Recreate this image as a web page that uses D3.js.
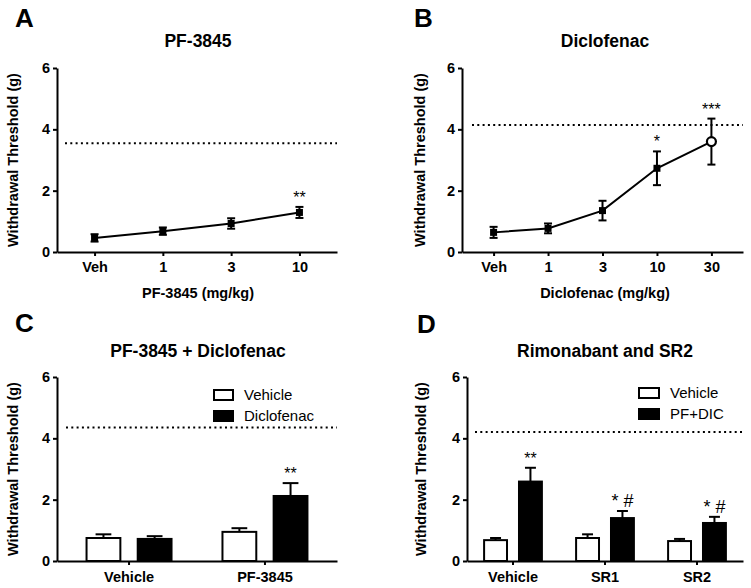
<!DOCTYPE html>
<html><head><meta charset="utf-8">
<script src="https://cdn.jsdelivr.net/npm/d3@7"></script>
<style>
body{margin:0;background:#fff;}
svg{font-family:"Liberation Sans",Arial,sans-serif;}
</style></head><body>
<svg id="c" width="751" height="588"></svg>
<script>
// ---- data ----
const yTicks = [0, 2, 4, 6];
const doseA = ["Veh", "1", "3", "10"];
const meanA = [0.46, 0.68, 0.93, 1.29];
const semA = [0.12, 0.12, 0.17, 0.18];
const sigA = ["", "", "", "**"];
const baseA = 3.55;

const doseB = ["Veh", "1", "3", "10", "30"];
const meanB = [0.64, 0.77, 1.35, 2.73, 3.6];
const semB = [0.18, 0.16, 0.32, 0.55, 0.75];
const sigB = ["", "", "", "*", "***"];
const baseB = 4.14;

const groupsC = ["Vehicle", "PF-3845"];
const seriesC = ["Vehicle", "Diclofenac"];
const vehMeanC = [0.75, 0.95];
const vehSemC = [0.12, 0.12];
const dicMeanC = [0.72, 2.12];
const dicSemC = [0.09, 0.42];
const sigC = ["", "**"];
const baseC = 4.35;

const groupsD = ["Vehicle", "SR1", "SR2"];
const seriesD = ["Vehicle", "PF+DIC"];
const vehMeanD = [0.68, 0.75, 0.65];
const vehSemD = [0.07, 0.12, 0.07];
const pfMeanD = [2.59, 1.4, 1.24];
const pfSemD = [0.45, 0.23, 0.2];
const sigD = ["**", "* #", "* #"];
const baseD = 4.21;

const svg = d3.select("#c");

function yAxis(g, y) {
  g.call(d3.axisLeft(y).tickValues(yTicks).tickFormat(d3.format("d")).tickSize(4).tickSizeOuter(0).tickPadding(3));
  g.selectAll("path,line").attr("stroke", "#000").attr("stroke-width", 2);
  g.selectAll("text").attr("font-size", 14.5).attr("font-weight", "bold").attr("fill", "#000");
  g.attr("font-family", null);
}
function xAxis(g, x, pad) {
  g.call(d3.axisBottom(x).tickSize(4).tickSizeOuter(0).tickPadding(pad));
  g.selectAll("path,line").attr("stroke", "#000").attr("stroke-width", 2);
  g.selectAll("text").attr("font-size", 14.5).attr("font-weight", "bold").attr("fill", "#000");
  g.attr("font-family", null);
}
function label(x, y, t, size, weight, anchor) {
  return svg.append("text").attr("x", x).attr("y", y).attr("font-size", size)
    .attr("font-weight", weight || "normal").attr("text-anchor", anchor || "middle").text(t);
}
function ylabel(x, yc, t) {
  svg.append("text").attr("transform", `translate(${x},${yc}) rotate(-90)`)
    .attr("font-size", 14.5).attr("font-weight", "bold").attr("text-anchor", "middle").text(t);
}
function dotted(x0, x1, yv) {
  svg.append("line").attr("x1", x0).attr("x2", x1).attr("y1", yv).attr("y2", yv)
    .attr("stroke", "#000").attr("stroke-width", 2).attr("stroke-dasharray", "2,3.3");
}

// ---- line panels ----
function linePanel(o) {
  const y = d3.scaleLinear().domain([0, 6]).range([o.y1, o.y0]);
  const x = d3.scalePoint().domain(o.doses).range([o.x0, o.x1]).padding(o.pad);
  dotted(o.dx0, o.x1, y(o.base));
  const line = d3.line().x((d, i) => x(o.doses[i])).y(d => y(d));
  svg.append("path").datum(o.mean).attr("d", line).attr("fill", "none").attr("stroke", "#000").attr("stroke-width", 2);
  const g = svg.append("g");
  o.mean.forEach((m, i) => {
    const cx = x(o.doses[i]);
    const top = y(m + o.sem[i]), bot = y(m - o.sem[i]);
    g.append("line").attr("x1", cx).attr("x2", cx).attr("y1", top).attr("y2", bot).attr("stroke", "#000").attr("stroke-width", 2);
    [top, bot].forEach(v => g.append("line").attr("x1", cx - 4).attr("x2", cx + 4).attr("y1", v).attr("y2", v).attr("stroke", "#000").attr("stroke-width", 2));
    if (o.open && i === o.mean.length - 1) {
      g.append("circle").attr("cx", cx).attr("cy", y(m)).attr("r", 4.5).attr("fill", "#fff").attr("stroke", "#000").attr("stroke-width", 2.2);
    } else {
      g.append("rect").attr("x", cx - 3.5).attr("y", y(m) - 3.5).attr("width", 7).attr("height", 7).attr("fill", "#000");
    }
    if (o.sig[i]) label(cx, top - 4, o.sig[i], 16);
  });
  yAxis(svg.append("g").attr("transform", `translate(${o.x0},0)`), y);
  xAxis(svg.append("g").attr("transform", `translate(0,${o.y1})`), x, 6);
}

linePanel({x0: 57, x1: 337, y0: 68, y1: 252, doses: doseA, mean: meanA, sem: semA, sig: sigA, base: baseA, pad: 0.55, dx0: 65});
linePanel({x0: 462, x1: 743, y0: 68, y1: 252, doses: doseB, mean: meanB, sem: semB, sig: sigB, base: baseB, pad: 0.58, dx0: 472, open: true});

// ---- bar panels ----
function barPanel(o) {
  const y = d3.scaleLinear().domain([0, 6]).range([o.y1, o.y0]);
  const x = d3.scaleBand().domain(o.groups).range([o.x0, o.x1]).paddingInner(o.pi).paddingOuter(o.po);
  const xs = d3.scaleBand().domain(o.series).range([0, x.bandwidth()]).paddingInner(o.si);
  dotted(o.dx0, o.x1, y(o.base));
  const fills = ["#fff", "#000"];
  const sets = [[o.m0, o.s0, []], [o.m1, o.s1, o.sig]];
  sets.forEach(([means, sems, sig], k) => {
    means.forEach((m, i) => {
      const bx = x(o.groups[i]) + xs(o.series[k]);
      const w = xs.bandwidth();
      const cx = bx + w / 2;
      const top = y(m + sems[i]);
      const cw = w * 0.22;
      svg.append("line").attr("x1", cx).attr("x2", cx).attr("y1", y(m)).attr("y2", top).attr("stroke", "#000").attr("stroke-width", 2);
      svg.append("line").attr("x1", cx - cw).attr("x2", cx + cw).attr("y1", top).attr("y2", top).attr("stroke", "#000").attr("stroke-width", 2);
      svg.append("rect").attr("x", bx + 1).attr("y", y(m)).attr("width", w - 2).attr("height", y(0) - y(m))
        .attr("fill", fills[k]).attr("stroke", "#000").attr("stroke-width", 2);
      if (sig[i]) label(cx, top - 4, sig[i], sig[i].includes("#") ? 18 : 16);
    });
  });
  yAxis(svg.append("g").attr("transform", `translate(${o.x0},0)`), y);
  xAxis(svg.append("g").attr("transform", `translate(0,${o.y1})`), x, 7);
  // legend
  o.series.forEach((s, k) => {
    svg.append("rect").attr("x", o.lx).attr("y", o.ly + k * 21).attr("width", o.lw).attr("height", 10)
      .attr("fill", fills[k]).attr("stroke", "#000").attr("stroke-width", 2);
    label(o.lx + o.lw + 11, o.ly + k * 21 + 10, s, 15, "normal", "start");
  });
}

barPanel({x0: 57, x1: 337, y0: 377, y1: 561, groups: groupsC, series: seriesC, pi: 0.36, po: 0.21, si: 0.3,
  m0: vehMeanC, s0: vehSemC, m1: dicMeanC, s1: dicSemC, sig: sigC, base: baseC, dx0: 66, lx: 214, ly: 390, lw: 19});
barPanel({x0: 467, x1: 743, y0: 377, y1: 561, groups: groupsD, series: seriesD, pi: 0.35, po: 0.175, si: 0.286,
  m0: vehMeanD, s0: vehSemD, m1: pfMeanD, s1: pfSemD, sig: sigD, base: baseD, dx0: 475, lx: 639, ly: 388, lw: 20});

// ---- titles / labels ----
label(15, 27, "A", 26, "bold", "start");
label(414, 27, "B", 26, "bold", "start");
label(15, 332, "C", 26, "bold", "start");
label(417, 333, "D", 26, "bold", "start");
label(198, 47, "PF-3845", 17.5, "bold");
label(605, 47, "Diclofenac", 17.5, "bold");
label(198, 357, "PF-3845 + Diclofenac", 17.5, "bold");
label(605, 357, "Rimonabant and SR2", 17.5, "bold");
label(198, 298, "PF-3845 (mg/kg)", 14.5, "bold");
label(605, 298, "Diclofenac (mg/kg)", 14.5, "bold");
ylabel(18, 160, "Withdrawal Threshold (g)");
ylabel(425, 160, "Withdrawal Threshold (g)");
ylabel(18, 469, "Withdrawal Threshold (g)");
ylabel(426, 469, "Withdrawal Threshold (g)");
</script></body></html>
